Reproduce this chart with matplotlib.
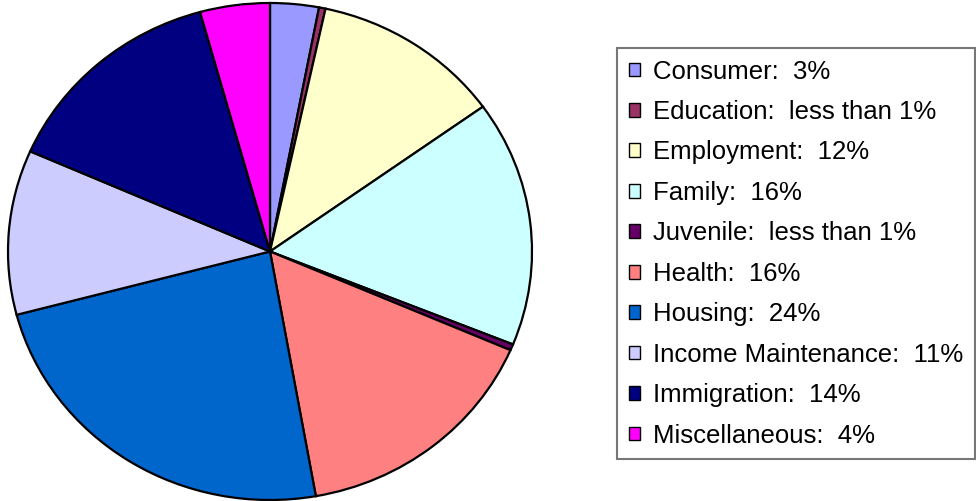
import matplotlib
matplotlib.use("Agg")
import matplotlib.pyplot as plt
from matplotlib.patches import Patch

categories = ["Consumer", "Education", "Employment", "Family", "Juvenile",
              "Health", "Housing", "Income Maintenance", "Immigration", "Miscellaneous"]
values = [3.0, 0.4, 11.7, 16.0, 0.4, 15.7, 23.7, 10.7, 14.1, 4.3]
pct_labels = ["3%", "less than 1%", "12%", "16%", "less than 1%",
              "16%", "24%", "11%", "14%", "4%"]
colors = ["#9999FF", "#993366", "#FFFFCC", "#CCFFFF", "#660066",
          "#FF8080", "#0066CC", "#CCCCFF", "#000080", "#FF00FF"]

W, H = 976, 501
fig = plt.figure(figsize=(W / 100, H / 100), dpi=100)

# pie axes (ellipse spans x 8..532, y 3..500 in pixels)
m = 0.02
x0, x1, y0, y1 = 8, 532, 3, 500
rx = (x1 - x0) / 2
ry = (y1 - y0) / 2
ax = fig.add_axes([(x0 - m * rx) / W, (H - y1 - m * ry) / H,
                   (x1 - x0 + 2 * m * rx) / W, (y1 - y0 + 2 * m * ry) / H])
wedges, _ = ax.pie(values, colors=colors, startangle=90, counterclock=False,
                   wedgeprops=dict(edgecolor="black", linewidth=1.6))
ax.set_aspect("auto")
ax.set_xlim(-1 - m, 1 + m)
ax.set_ylim(-1 - m, 1 + m)
ax.axis("off")

labels = [f"{c}:  {p}" for c, p in zip(categories, pct_labels)]
handles = [Patch(facecolor=c, edgecolor="black", linewidth=1.0) for c in colors]
leg = fig.legend(handles, labels, loc="upper left",
                 bbox_to_anchor=(617 / W, 1 - 48 / H),
                 prop=dict(family="Liberation Sans", size=18.5),
                 frameon=True, fancybox=False, shadow=False,
                 handlelength=0.45, handleheight=0.45, handletextpad=0.5,
                 labelspacing=0.64, borderpad=0.45, borderaxespad=0.0)
fr = leg.get_frame()
fr.set_edgecolor("#555555")
fr.set_linewidth(1.5)

fig.savefig("out.png", dpi=100)
